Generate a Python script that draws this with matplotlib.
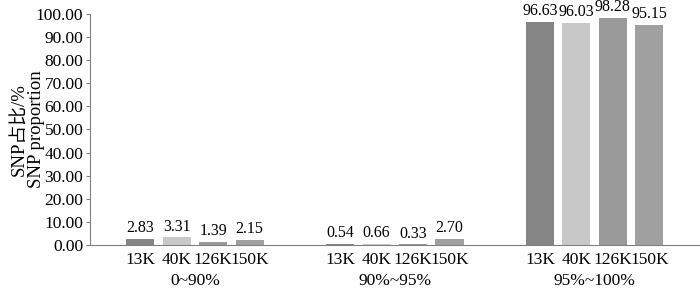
import numpy as np
import matplotlib.pyplot as plt

plt.rcParams['font.family'] = ['Liberation Serif', 'Noto Sans CJK SC']

grupos = ['0~90%', '90%~95%', '95%~100%']
chips = ['13K', '40K', '126K', '150K']
valores = {
    '13K': [2.83, 0.54, 96.63],
    '40K': [3.31, 0.66, 96.03],
    '126K': [1.39, 0.33, 98.28],
    '150K': [2.15, 2.70, 95.15],
}
cores = ['#858585', '#c8c8c8', '#9a9a9a', '#a0a0a0']
yticks = np.arange(0, 101, 10)

fig = plt.figure(figsize=(7, 2.89), dpi=100)
ax = fig.add_axes([0.129, 0.152, 0.869, 0.800])

passo_grupo = 5.48
largura = 0.77
for i, chip in enumerate(chips):
    xs = np.arange(len(grupos)) * passo_grupo + (i - 1.5)
    ax.bar(xs, valores[chip], width=largura, color=cores[i])
    for x, v in zip(xs, valores[chip]):
        ax.annotate(f'{v:.2f}', (x, v), xytext=(0, 2), textcoords='offset points',
                    ha='center', va='bottom', fontsize=11.5, clip_on=False)

# rotulos dos chips e dos grupos abaixo do eixo
trans = ax.get_xaxis_transform()
for g, nome in enumerate(grupos):
    centro = g * passo_grupo
    for i, chip in enumerate(chips):
        ax.text(centro + (i - 1.5), -0.03, chip, transform=trans,
                ha='center', va='top', fontsize=12.5)
    ax.text(centro, -0.122, nome, transform=trans, ha='center', va='top', fontsize=12.5)

ax.set_xlim(-2.87, 2 * passo_grupo + 2.85)
ax.set_ylim(0, 100)
ax.set_yticks(yticks)
ax.set_yticklabels([f'{t:.2f}' for t in yticks], fontsize=12.5)
ax.set_xticks([])
ax.tick_params(axis='y', length=3, color='#808080', pad=2)
for lado in ['top', 'right']:
    ax.spines[lado].set_visible(False)
ax.spines['left'].set_color('#808080')
ax.spines['bottom'].set_color('#808080')
ax.set_ylabel('SNP占比/%\nSNP proportion', fontsize=13.5, linespacing=0.95)
ax.yaxis.set_label_coords(-0.075, 0.5)

plt.savefig('out.png', dpi=100)
